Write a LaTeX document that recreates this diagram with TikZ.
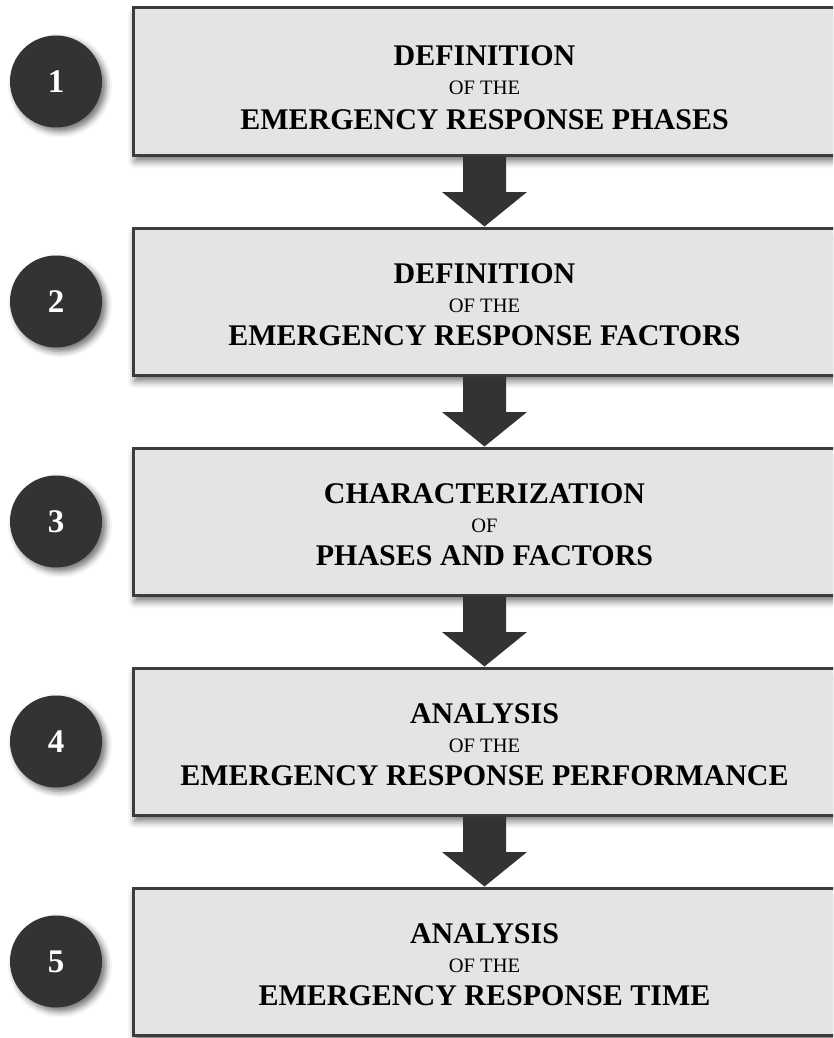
\documentclass[tikz,border=0pt]{standalone}
\usepackage{fontspec}
\setmainfont{Liberation Serif}
\usetikzlibrary{shadows.blur,calc}
\definecolor{panelfill}{HTML}{E4E4E4}
\definecolor{panelline}{HTML}{3C3C3C}
\definecolor{darkmark}{HTML}{333333}
\begin{document}
\begin{tikzpicture}[x=1pt,y=-1pt,
  panel/.style={draw=panelline, line width=3pt, fill=panelfill,
    minimum width=703pt, minimum height=147pt, inner sep=0pt,
    blur shadow={shadow xshift=2pt, shadow yshift=-6pt,
      shadow blur radius=7pt, shadow opacity=55}},
  badge/.style={circle, fill=darkmark, minimum size=92pt, inner sep=0pt,
    text=white, font=\fontsize{33}{33}\selectfont\bfseries,
    blur shadow={shadow xshift=4pt, shadow yshift=-4pt,
      shadow blur radius=6pt, shadow opacity=55}},
  headline/.style={anchor=base, inner sep=0pt,
    font=\fontsize{30}{30}\selectfont\bfseries},
  joiner/.style={anchor=base, inner sep=0pt,
    font=\fontsize{20.5}{20.5}\selectfont},
  flowarrow/.style={fill=darkmark}
]
\useasboundingbox (0,0) rectangle (833,1038);
\clip (0,0) rectangle (833,1038);

% step panels, numbered badges and their three text lines
\foreach \i/\ya/\yb/\yc/\ta/\tb/\tc in {
  1/61/90/124/DEFINITION/OF THE/EMERGENCY RESPONSE PHASES,
  2/58/87/120/DEFINITION/OF THE/EMERGENCY RESPONSE FACTORS,
  3/58/87/120/CHARACTERIZATION/OF/PHASES AND FACTORS,
  4/58/87/120/ANALYSIS/OF THE/EMERGENCY RESPONSE PERFORMANCE,
  5/58/87/120/ANALYSIS/OF THE/EMERGENCY RESPONSE TIME}{
  \node[panel] (b\i) at (484.5,{81.5+220*(\i-1)}) {};
  \node[badge] (n\i) at (56,{81.5+220*(\i-1)}) {\i};
  \node[headline] (ha\i) at ($(b\i.north)+(0,\ya-1.5)$) {\ta};
  \node[joiner]   (hb\i) at ($(b\i.north)+(0,\yb-1.5)$) {\tb};
  \node[headline] (hc\i) at ($(b\i.north)+(0,\yc-1.5)$) {\tc};
}

% block arrows between consecutive panels
\foreach \i [evaluate=\i as \j using int(\i+1)] in {1,...,4}{
  \fill[flowarrow]
    ($(b\i.south)+(-21.5,0)$) -- ($(b\i.south)+(21.5,0)$)
    -- ($(b\i.south)+(21.5,35.5)$) -- ($(b\i.south)+(42.5,35.5)$)
    -- (b\j.north)
    -- ($(b\i.south)+(-42.5,35.5)$) -- ($(b\i.south)+(-21.5,35.5)$)
    -- cycle;
}
\end{tikzpicture}
\end{document}
